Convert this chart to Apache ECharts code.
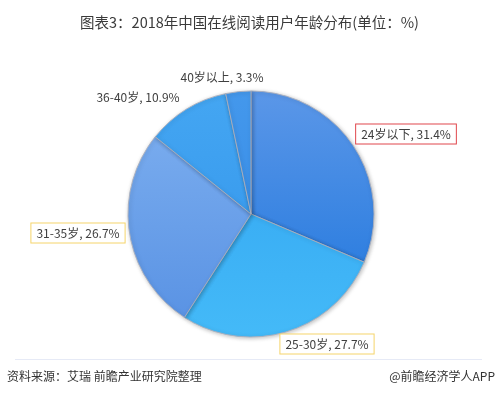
<!DOCTYPE html>
<html><head><meta charset="utf-8">
<script src="https://cdn.jsdelivr.net/npm/echarts@6/dist/echarts.min.js"></script>
<style>html,body{margin:0;padding:0;background:#fff}#c{width:499px;height:408px}</style>
</head><body><div id="c"></div>
<script>
var categories = ['24岁以下', '25-30岁', '31-35岁', '36-40岁', '40岁以上'];
var values = [31.4, 27.7, 26.7, 10.9, 3.3];
var titleText = '图表3：2018年中国在线阅读用户年龄分布(单位：%)';
var sourceText = '资料来源：艾瑞 前瞻产业研究院整理';
var brandText = '@前瞻经济学人APP';

var FONT = '"Noto Sans CJK SC", "Microsoft YaHei", sans-serif';
var colors = [
  ['#5b97e8', '#2f7fe0'],
  ['#3aaef4', '#44baf8'],
  ['#78abee', '#5a93e4'],
  ['#44a6f2', '#3a9cee'],
  ['#4498ec', '#3a8fe8']
];
var boxes = [
  {border: '#e0474c', pos: [406, 134]},
  {border: '#f5d46a', pos: [327, 344]},
  {border: '#f5d46a', pos: [78, 233]},
  {border: null, pos: [138, 97]},
  {border: null, pos: [222, 77]}
];

var data = categories.map(function (n, i) {
  var b = boxes[i];
  return {
    name: n, value: values[i],
    itemStyle: {color: new echarts.graphic.LinearGradient(0, 0, 0, 1, [
      {offset: 0, color: colors[i][0]}, {offset: 1, color: colors[i][1]}])},
    label: b.border ? {borderColor: b.border, borderWidth: 1, padding: [4, 5, 3, 5], backgroundColor: '#fff'} : {padding: [3, 4, 2, 4]}
  };
});

var chart = echarts.init(document.getElementById('c'), null, {renderer: 'canvas'});
chart.setOption({
  animation: false,
  title: {
    text: titleText, left: 'center', top: 10,
    textStyle: {fontFamily: FONT, fontSize: 14.5, fontWeight: 'normal', color: '#3a3a3a'}
  },
  graphic: [
    {type: 'line', shape: {x1: 15, y1: 359.5, x2: 482, y2: 359.5}, style: {stroke: '#e6eaf6', lineWidth: 1}},
    {type: 'text', left: 7, top: 370, style: {text: sourceText, font: '12px ' + FONT, fill: '#333'}},
    {type: 'text', right: 4, top: 370, style: {text: brandText, font: '12px ' + FONT, fill: '#333'}}
  ],
  series: [{
    type: 'pie',
    center: [251, 214],
    radius: [0, 123],
    startAngle: 90,
    clockwise: true,
    data: data,
    itemStyle: {borderColor: 'rgba(170,175,190,0.9)', borderWidth: 1, shadowBlur: 4, shadowColor: 'rgba(0,0,0,0.25)', shadowOffsetX: 1, shadowOffsetY: 1},
    label: {
      show: true, position: 'inside',
      formatter: '{b}, {c}%',
      fontFamily: FONT, fontSize: 12, color: '#404040'
    },
    labelLine: {show: false},
    labelLayout: function (p) {
      var b = boxes[p.dataIndex];
      return {x: b.pos[0], y: b.pos[1], align: 'center', verticalAlign: 'middle'};
    },
    emphasis: {disabled: true}
  }]
});
</script></body></html>
